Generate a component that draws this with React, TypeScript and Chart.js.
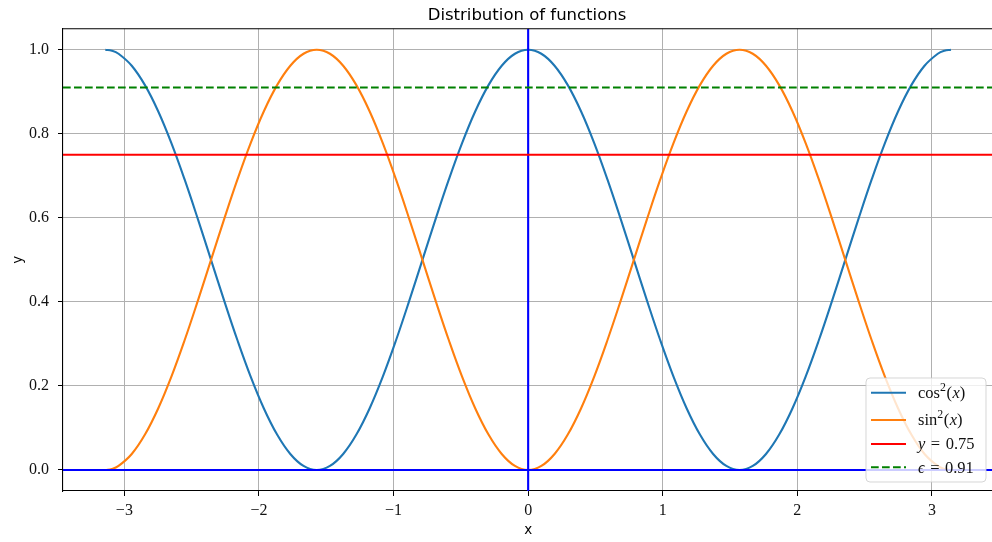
import React, { useEffect, useRef } from 'react';
import { Chart, registerables } from 'chart.js';

Chart.register(...registerables);

// ---- data ----
const xValues = [
  -3.1416, -3.0925, -3.0434, -2.9452, -2.8471, -2.7489, -2.6507, -2.5525, -2.4544, -2.3562, -2.258, -2.1598,
  -2.0617, -1.9635, -1.8653, -1.7671, -1.669, -1.5708, -1.4726, -1.3744, -1.2763, -1.1781, -1.0799,
  -0.9817, -0.8836, -0.7854, -0.6872, -0.589, -0.4909, -0.3927, -0.2945, -0.1963, -0.0982, 0,
  0.0982, 0.1963, 0.2945, 0.3927, 0.4909, 0.589, 0.6872, 0.7854, 0.8836, 0.9817, 1.0799, 1.1781,
  1.2763, 1.3744, 1.4726, 1.5708, 1.669, 1.7671, 1.8653, 1.9635, 2.0617, 2.1598, 2.258, 2.3562,
  2.4544, 2.5525, 2.6507, 2.7489, 2.8471, 2.9452, 3.0434, 3.0925, 3.1416,
];
const cosSquared = [
  1, 0.9976, 0.9904, 0.9619, 0.9157, 0.8536, 0.7778, 0.6913, 0.5975, 0.5, 0.4025, 0.3087, 0.2222, 0.1464,
  0.0843, 0.0381, 0.0096, 0, 0.0096, 0.0381, 0.0843, 0.1464, 0.2222, 0.3087, 0.4025, 0.5, 0.5975,
  0.6913, 0.7778, 0.8536, 0.9157, 0.9619, 0.9904, 1,
  0.9904, 0.9619, 0.9157, 0.8536, 0.7778, 0.6913, 0.5975, 0.5, 0.4025, 0.3087, 0.2222, 0.1464,
  0.0843, 0.0381, 0.0096, 0, 0.0096, 0.0381, 0.0843, 0.1464, 0.2222, 0.3087, 0.4025, 0.5, 0.5975,
  0.6913, 0.7778, 0.8536, 0.9157, 0.9619, 0.9904, 0.9976, 1,
];
const sinSquared = [
  0, 0.0024, 0.0096, 0.0381, 0.0843, 0.1464, 0.2222, 0.3087, 0.4025, 0.5, 0.5975, 0.6913, 0.7778, 0.8536,
  0.9157, 0.9619, 0.9904, 1, 0.9904, 0.9619, 0.9157, 0.8536, 0.7778, 0.6913, 0.5975, 0.5, 0.4025,
  0.3087, 0.2222, 0.1464, 0.0843, 0.0381, 0.0096, 0,
  0.0096, 0.0381, 0.0843, 0.1464, 0.2222, 0.3087, 0.4025, 0.5, 0.5975, 0.6913, 0.7778, 0.8536,
  0.9157, 0.9619, 0.9904, 1, 0.9904, 0.9619, 0.9157, 0.8536, 0.7778, 0.6913, 0.5975, 0.5, 0.4025,
  0.3087, 0.2222, 0.1464, 0.0843, 0.0381, 0.0096, 0.0024, 0,
];
const xTicks = [-3, -2, -1, 0, 1, 2, 3];
const yTicks = [0, 0.2, 0.4, 0.6, 0.8, 1.0];
const xLimits = [-3.456, 3.456];
const yLimits = [-0.05, 1.05];
const zeroLevel = 0;
const zeroX = 0;
const redLevel = 0.75;
const epsLevel = 0.91;
const chartTitle = 'Distribution of functions';
const xLabel = 'x';
const yLabel = 'y';

const SERIF = '"Liberation Serif", "DejaVu Serif", serif';
const SANS = '"DejaVu Sans", sans-serif';

type Part = { t: string; italic?: boolean; sup?: boolean; gap?: number };

function drawRich(ctx: CanvasRenderingContext2D, x: number, y: number, parts: Part[], size: number) {
  let cx = x;
  for (const p of parts) {
    const s = p.sup ? size * 0.72 : size;
    ctx.font = `${p.italic ? 'italic ' : ''}${s}px ${SERIF}`;
    ctx.textBaseline = 'alphabetic';
    ctx.textAlign = 'left';
    cx += p.gap || 0;
    ctx.fillText(p.t, cx, p.sup ? y - size * 0.42 : y);
    cx += ctx.measureText(p.t).width + (p.gap || 0);
  }
}

const legendItems: { color: string; dash: number[]; parts: Part[] }[] = [
  { color: '#1f77b4', dash: [], parts: [{ t: 'cos' }, { t: '2', sup: true }, { t: '(', gap: 0.5 }, { t: 'x', italic: true }, { t: ')' }] },
  { color: '#ff7f0e', dash: [], parts: [{ t: 'sin' }, { t: '2', sup: true }, { t: '(', gap: 0.5 }, { t: 'x', italic: true }, { t: ')' }] },
  { color: '#ff0000', dash: [], parts: [{ t: 'y', italic: true }, { t: '=', gap: 5.5 }, { t: '0.75' }] },
  { color: '#008000', dash: [7.7, 3.3], parts: [{ t: 'ϵ', italic: true }, { t: '=', gap: 5.5 }, { t: '0.91' }] },
];

const decorPlugin = {
  id: 'decor',
  afterDraw(chart: any) {
    const ctx: CanvasRenderingContext2D = chart.ctx;
    const a = chart.chartArea;
    ctx.save();
    // top + right spines
    ctx.strokeStyle = '#000';
    ctx.lineWidth = 1.1;
    ctx.beginPath();
    ctx.moveTo(a.left, a.top);
    ctx.lineTo(a.right, a.top);
    ctx.lineTo(a.right, a.bottom);
    ctx.stroke();

    // title
    ctx.fillStyle = '#000';
    ctx.font = `16.5px ${SANS}`;
    ctx.textAlign = 'center';
    ctx.textBaseline = 'alphabetic';
    ctx.fillText(chartTitle, 527, 19.5);

    // axis labels
    ctx.font = `13.5px ${SANS}`;
    ctx.textBaseline = 'middle';
    ctx.fillText(xLabel, (a.left + a.right) / 2, 530);
    ctx.save();
    ctx.translate(18, (a.top + a.bottom) / 2);
    ctx.rotate(-Math.PI / 2);
    ctx.fillText(yLabel, 0, 0);
    ctx.restore();

    // legend
    const bx = 866, by = 378, bw = 120, bh = 104, r = 4;
    ctx.beginPath();
    ctx.moveTo(bx + r, by);
    ctx.lineTo(bx + bw - r, by);
    ctx.quadraticCurveTo(bx + bw, by, bx + bw, by + r);
    ctx.lineTo(bx + bw, by + bh - r);
    ctx.quadraticCurveTo(bx + bw, by + bh, bx + bw - r, by + bh);
    ctx.lineTo(bx + r, by + bh);
    ctx.quadraticCurveTo(bx, by + bh, bx, by + bh - r);
    ctx.lineTo(bx, by + r);
    ctx.quadraticCurveTo(bx, by, bx + r, by);
    ctx.closePath();
    ctx.fillStyle = 'rgba(255,255,255,0.8)';
    ctx.fill();
    ctx.strokeStyle = 'rgba(204,204,204,0.8)';
    ctx.lineWidth = 1;
    ctx.stroke();

    const rows = [392.7, 420, 444, 467.3];
    const baselines = [398, 425, 448.5, 473];
    legendItems.forEach((it, i) => {
      const y = rows[i];
      ctx.strokeStyle = it.color;
      ctx.lineWidth = 2.1;
      ctx.setLineDash(it.dash);
      ctx.beginPath();
      ctx.moveTo(871, y);
      ctx.lineTo(906, y);
      ctx.stroke();
      ctx.setLineDash([]);
      ctx.fillStyle = '#111';
      drawRich(ctx, 918, baselines[i], it.parts, 16.5);
    });
    ctx.restore();
  },
};

const fmtMinus = (s: string) => s.replace('-', '\u2212');

export default function App() {
  const ref = useRef<HTMLCanvasElement | null>(null);
  useEffect(() => {
    if (!ref.current) return;
    const line = (data: { x: number; y: number }[], color: string, order: number, dash: number[] = [], tension = 0) => ({
      data,
      borderColor: color,
      backgroundColor: color,
      borderWidth: 2.1,
      borderDash: dash,
      pointRadius: 0,
      fill: false,
      order,
      tension,
    });
    const chart = new Chart(ref.current, {
      type: 'line',
      data: {
        datasets: [
          line(xValues.map((x, i) => ({ x, y: cosSquared[i] })), '#1f77b4', 6, [], 0.4),
          line(xValues.map((x, i) => ({ x, y: sinSquared[i] })), '#ff7f0e', 5, [], 0.4),
          line(xLimits.map((x) => ({ x, y: zeroLevel })), '#0000ff', 4),
          line(yLimits.map((y) => ({ x: zeroX, y })), '#0000ff', 3),
          line(xLimits.map((x) => ({ x, y: redLevel })), '#ff0000', 2),
          line(xLimits.map((x) => ({ x, y: epsLevel })), '#008000', 1, [7.7, 3.3]),
        ] as any,
      },
      options: {
        animation: false,
        responsive: false,
        maintainAspectRatio: false,
        devicePixelRatio: 1,
        events: [],
        layout: { padding: { left: 0, right: 6.7, top: 28.7, bottom: 0 } },
        plugins: { legend: { display: false }, title: { display: false }, tooltip: { enabled: false } },
        scales: {
          x: {
            type: 'linear',
            min: xLimits[0],
            max: xLimits[1],
            afterBuildTicks: (s: any) => {
              s.ticks = xTicks.map((v) => ({ value: v }));
            },
            afterFit: (s: any) => {
              s.height = 51;
              s.paddingLeft = 0;
              s.paddingRight = 0;
            },
            grid: { color: '#b0b0b0', lineWidth: 1, tickColor: '#000', tickLength: 5, drawTicks: true },
            border: { display: true, color: '#000', width: 1.1 },
            ticks: {
              color: '#111',
              padding: 5,
              maxRotation: 0,
              autoSkip: false,
              font: { family: SERIF, size: 16 },
              callback: (v: any) => fmtMinus(String(v)),
            },
          },
          y: {
            type: 'linear',
            min: yLimits[0],
            max: yLimits[1],
            afterBuildTicks: (s: any) => {
              s.ticks = yTicks.map((v) => ({ value: v }));
            },
            afterFit: (s: any) => {
              s.width = 63;
              s.paddingTop = 0;
              s.paddingBottom = 0;
            },
            grid: { color: '#b0b0b0', lineWidth: 1, tickColor: '#000', tickLength: 5, drawTicks: true },
            border: { display: true, color: '#000', width: 1.1 },
            ticks: {
              color: '#111',
              padding: 9,
              autoSkip: false,
              font: { family: SERIF, size: 16 },
              callback: (v: any) => fmtMinus(Number(v).toFixed(1)),
            },
          },
        },
      } as any,
      plugins: [decorPlugin],
    });
    return () => chart.destroy();
  }, []);
  return (
    <div style={{ position: 'fixed', left: 0, top: 0, width: 992, height: 542, overflow: 'hidden', background: '#fff' }}>
      <canvas ref={ref} width={1000} height={542} style={{ display: 'block', width: 1000, height: 542 }} />
    </div>
  );
}
